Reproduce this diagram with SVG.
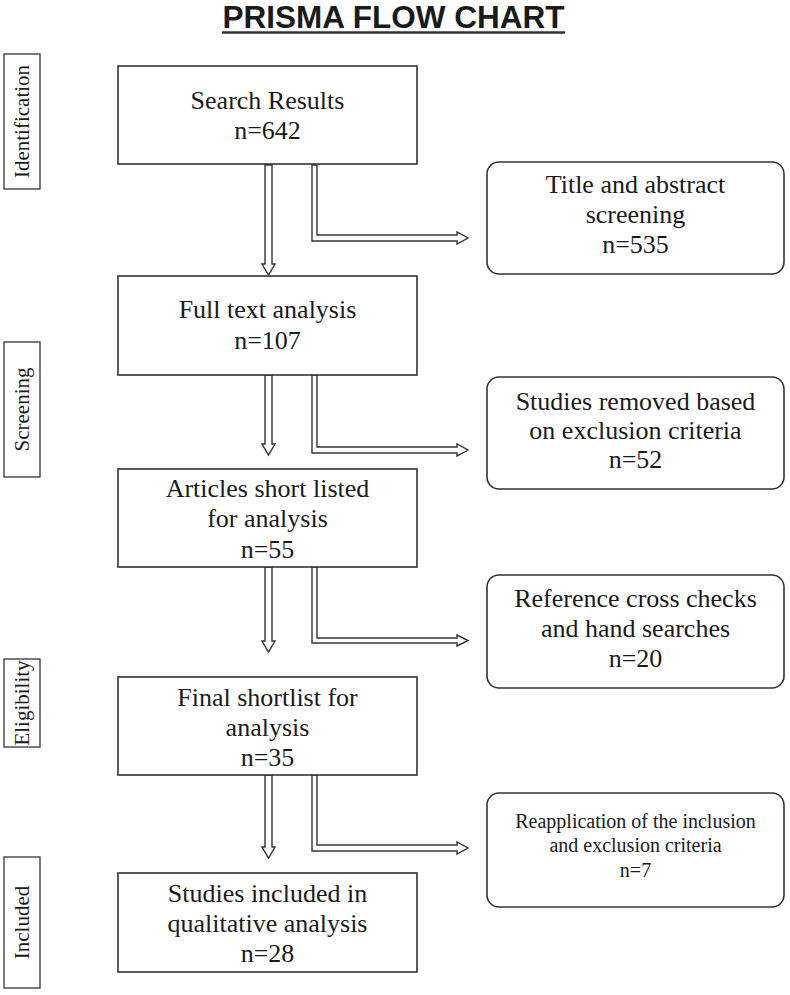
<svg xmlns="http://www.w3.org/2000/svg" width="790" height="995" viewBox="0 0 790 995">
<style>
.box{fill:#fff;stroke:#333;stroke-width:1.6}
.side{fill:#fff;stroke:#444;stroke-width:1.4}
.t{font-family:"Liberation Serif","Times New Roman",serif;font-size:26px;fill:#1a1a1a;text-anchor:middle}
.ts{font-family:"Liberation Serif","Times New Roman",serif;font-size:20px;fill:#1a1a1a;text-anchor:middle}
.sl{font-family:"Liberation Serif","Times New Roman",serif;font-size:21px;fill:#1a1a1a;text-anchor:middle}
.arr{fill:#fff;stroke:#333;stroke-width:1.4;stroke-linejoin:miter}
</style>
<rect width="790" height="995" fill="#fff"/>
<g id="title">
<text x="393.5" y="28" font-family="'Liberation Sans',Arial,sans-serif" font-weight="bold" font-size="31.5" fill="#1a1a1a" text-anchor="middle">PRISMA FLOW CHART</text>
<line x1="222" y1="32.5" x2="565" y2="32.5" stroke="#333" stroke-width="2.5"/>
</g>
<g id="side-identification">
<rect class="side" x="4" y="54" width="36" height="135"/>
<text class="sl" transform="translate(29,121.5) rotate(-90)">Identification</text>
</g>
<g id="side-screening">
<rect class="side" x="4" y="342" width="36" height="135"/>
<text class="sl" transform="translate(29,409.5) rotate(-90)">Screening</text>
</g>
<g id="side-eligibility">
<rect class="side" x="4" y="659" width="36" height="88"/>
<text class="sl" transform="translate(29,703) rotate(-90)">Eligibility</text>
</g>
<g id="side-included">
<rect class="side" x="4" y="857" width="36" height="131"/>
<text class="sl" transform="translate(29,922.5) rotate(-90)">Included</text>
</g>
<g id="connectors">
<polygon class="arr" points="265,165 265,264 262,264 268.5,275 275,264 272,264 272,165"/>
<polygon class="arr" points="312,165 312,241 457,241 457,244 468,238 457,232 457,235 317,235 317,165"/>
<polygon class="arr" points="265,375 265,444 262,444 268.5,455 275,444 272,444 272,375"/>
<polygon class="arr" points="312,375 312,453 457,453 457,456 468,450 457,444 457,447 317,447 317,375"/>
<polygon class="arr" points="265,567 265,641 262,641 268.5,652 275,641 272,641 272,567"/>
<polygon class="arr" points="312,567 312,643 457,643 457,646 468,640.5 457,635 457,638 317,638 317,567"/>
<polygon class="arr" points="265,775 265,847 262,847 268.5,858 275,847 272,847 272,775"/>
<polygon class="arr" points="312,775 312,851 457,851 457,854 468,848 457,842 457,845 317,845 317,775"/>
</g>
<g id="n1">
<rect class="box" x="118" y="66" width="299" height="98"/>
<text class="t" x="267.5" y="109">Search Results</text>
<text class="t" x="267.5" y="139">n=642</text>
</g>
<g id="n2">
<rect class="box" x="118" y="276" width="299" height="99"/>
<text class="t" x="267.5" y="318">Full text analysis</text>
<text class="t" x="267.5" y="349">n=107</text>
</g>
<g id="n3">
<rect class="box" x="118" y="469" width="299" height="98"/>
<text class="t" x="267.5" y="497">Articles short listed</text>
<text class="t" x="267.5" y="527">for analysis</text>
<text class="t" x="267.5" y="558">n=55</text>
</g>
<g id="n4">
<rect class="box" x="118" y="677" width="299" height="98"/>
<text class="t" x="267.5" y="706">Final shortlist for</text>
<text class="t" x="267.5" y="736">analysis</text>
<text class="t" x="267.5" y="766">n=35</text>
</g>
<g id="n5">
<rect class="box" x="118" y="873" width="299" height="99"/>
<text class="t" x="267.5" y="902">Studies included in</text>
<text class="t" x="267.5" y="932">qualitative analysis</text>
<text class="t" x="267.5" y="962">n=28</text>
</g>
<g id="r1">
<rect class="box" x="487" y="162" width="297" height="112" rx="12"/>
<text class="t" x="635.5" y="193">Title and abstract</text>
<text class="t" x="635.5" y="223">screening</text>
<text class="t" x="635.5" y="253">n=535</text>
</g>
<g id="r2">
<rect class="box" x="487" y="377" width="297" height="112" rx="12"/>
<text class="t" x="635.5" y="410">Studies removed based</text>
<text class="t" x="635.5" y="439">on exclusion criteria</text>
<text class="t" x="635.5" y="468">n=52</text>
</g>
<g id="r3">
<rect class="box" x="487" y="575" width="297" height="113" rx="12"/>
<text class="t" x="635.5" y="607">Reference cross checks</text>
<text class="t" x="635.5" y="637">and hand searches</text>
<text class="t" x="635.5" y="667">n=20</text>
</g>
<g id="r4">
<rect class="box" x="487" y="793" width="297" height="114" rx="12"/>
<text class="ts" x="635.5" y="828">Reapplication of the inclusion</text>
<text class="ts" x="635.5" y="852">and exclusion criteria</text>
<text class="ts" x="635.5" y="877">n=7</text>
</g>
</svg>
